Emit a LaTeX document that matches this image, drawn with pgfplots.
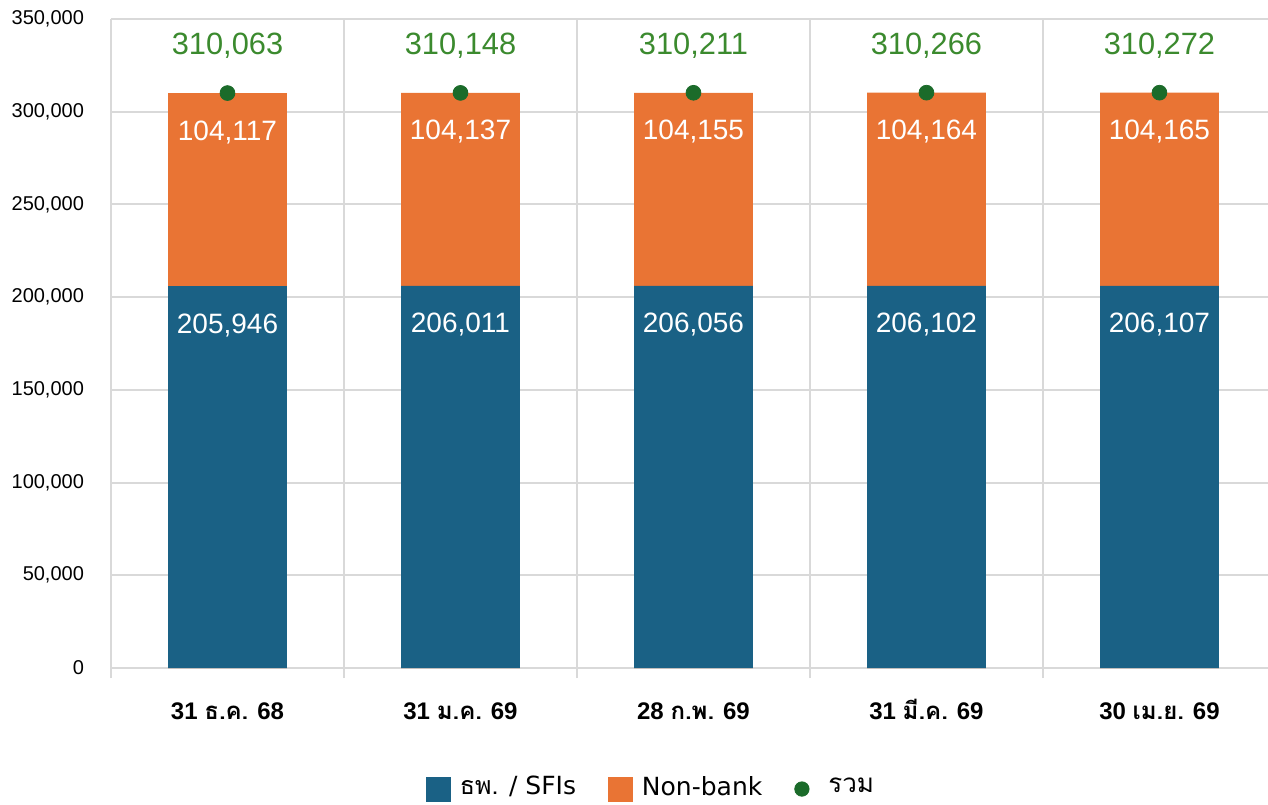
\documentclass[border=0pt]{standalone}
\usepackage{fontspec}
\setmainfont{Liberation Sans}
\newfontfamily\thaifont[Script=Thai]{Loma}
\newfontfamily\dejavu{DejaVu Sans}
\usepackage{pgfplots}
\pgfplotsset{compat=1.18}
\definecolor{barblue}{HTML}{1A6185}
\definecolor{barorange}{HTML}{E97434}
\definecolor{dotgreen}{HTML}{1B6B2A}
\definecolor{labgreen}{HTML}{3B8A2E}
\definecolor{gridgray}{HTML}{D9D9D9}
\begin{document}
\begin{tikzpicture}
\useasboundingbox (-55.5pt,-68pt) rectangle (578.5pt,334pt);
\begin{axis}[
  at={(0,0)}, anchor=south west,
  scale only axis, width=578.5pt, height=324.5pt,
  xmin=-0.5, xmax=4.466, ymin=0, ymax=350000,
  axis line style={draw=none},
  /pgf/number format/assume math mode=true,
  xtick={0,1,2,3,4},
  xticklabels={{31 {\thaifont ธ.ค.} 68},{31 {\thaifont ม.ค.} 69},{28 {\thaifont ก.พ.} 69},{31 {\thaifont มี.ค.} 69},{30 {\thaifont เม.ย.} 69}},
  minor xtick={-0.5,0.5,1.5,2.5,3.5},
  xminorgrids, ymajorgrids,
  grid style={gridgray, line width=1pt},
  minor grid style={gridgray, line width=1pt},
  major grid style={gridgray, line width=1pt},
  ytick={0,50000,100000,150000,200000,250000,300000,350000},
  scaled y ticks=false,
  yticklabel style={/pgf/number format/.cd, fixed, 1000 sep={,}, /tikz/.cd, font=\fontsize{10}{12}\selectfont, xshift=-10pt},
  xticklabel style={font=\bfseries\fontsize{12}{14}\selectfont, anchor=base, yshift=-25.5pt},
  tick pos=left,
  tick align=outside,
  major tick length=0pt,
  minor tick length=5pt,
  major tick style={draw=none},
  minor tick style={draw=gridgray, line width=1pt},
  legend style={at={(0.4676,-0.1834)}, anchor=center, draw=none, fill=none, legend columns=3,
    font=\dejavu\fontsize{12.5}{15}\selectfont,
    /tikz/every even column/.append style={column sep=14pt}},
  legend cell align=left,
]
\addplot[ybar, bar width=0.51, bar shift=0pt, fill=barorange, draw=none, forget plot,
  point meta=explicit,
  nodes near coords={\pgfmathprintnumber[fixed,precision=0,1000 sep={,}]{\pgfplotspointmeta}},
  nodes near coords style={text=white, anchor=center, yshift=-19.5pt, font=\fontsize{14}{16}\selectfont}]
  coordinates {(0,310063) [104117] (1,310148) [104137] (2,310211) [104155] (3,310266) [104164] (4,310272) [104165]};
\addplot[ybar, bar width=0.51, bar shift=0pt, fill=barblue, draw=none, forget plot,
  point meta=y,
  nodes near coords={\pgfmathprintnumber[fixed,precision=0,1000 sep={,}]{\pgfplotspointmeta}},
  nodes near coords style={text=white, anchor=center, yshift=-19.5pt, font=\fontsize{14}{16}\selectfont}]
  coordinates {(0,205946) (1,206011) (2,206056) (3,206102) (4,206107)};
\addplot[only marks, mark=*, mark size=3.7pt, mark options={draw=dotgreen, fill=dotgreen}, forget plot,
  point meta=y,
  nodes near coords={\pgfmathprintnumber[fixed,precision=0,1000 sep={,}]{\pgfplotspointmeta}},
  nodes near coords style={text=labgreen, anchor=center, yshift=23.5pt, font=\fontsize{15.4}{18}\selectfont}]
  coordinates {(0,310063) (1,310148) (2,310211) (3,310266) (4,310272)};
\addlegendimage{legend image code/.code={\fill[barblue] (0pt,-7pt) rectangle (12pt,5pt); \path (14.5pt,0pt);}}
\addlegendentry{{\thaifont ธพ.} / SFIs}
\addlegendimage{legend image code/.code={\fill[barorange] (0pt,-7pt) rectangle (12pt,5pt); \path (14.5pt,0pt);}}
\addlegendentry{Non-bank}
\addlegendimage{legend image code/.code={\fill[dotgreen] (3.6pt,-1pt) circle (3.6pt); \path (14.6pt,0pt);}}
\addlegendentry{{\thaifont\fontsize{13}{15}\selectfont รวม}}
\end{axis}
\end{tikzpicture}
\end{document}
